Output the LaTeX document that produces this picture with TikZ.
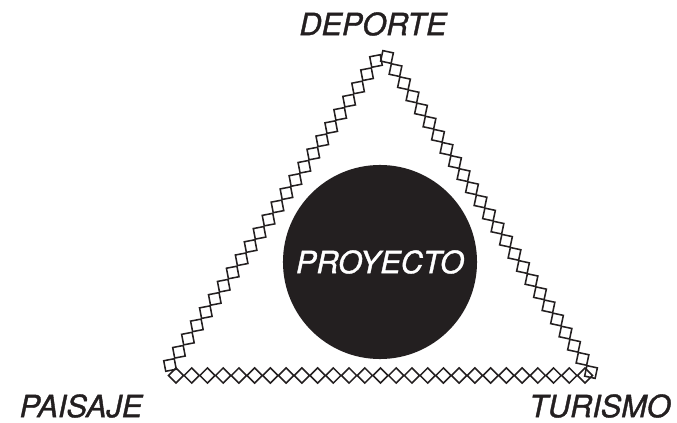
\documentclass[tikz,border=0pt]{standalone}
\usepackage{fontspec}
\setmainfont{TeX Gyre Heros}
\newfontfamily\labelfont{texgyreheros-italic.otf}[BoldFont=texgyreheros-italic.otf, BoldFeatures={FakeBold=1.2}]
\usetikzlibrary{shapes}
\usetikzlibrary{positioning}
\definecolor{ink}{RGB}{35,31,32}
\tikzset{
    tile/.style = {diamond, aspect=1, draw=ink, line width=1.1pt, inner sep=0pt, minimum size=0.395cm},
    mylabel/.style = {inner sep=0pt, text=ink, font=\labelfont\fontsize{21.8}{26}\selectfont\bfseries},
    mycircle/.style = {circle, fill=ink, inner sep=0pt, minimum size=4.85cm, text=white, font=\labelfont\fontsize{21.8}{26}\selectfont\bfseries}
}

\begin{document}
\begin{tikzpicture}[x=0.025cm,y=0.025cm]
\useasboundingbox (0,0) rectangle (677,422);
\coordinate (ls) at (170, 57);
\coordinate (le) at (376, 361);
\coordinate (rs) at (387, 365);
\coordinate (re) at (591, 50);
\coordinate (bs) at (176, 46.5);
\coordinate (be) at (585, 46.5);
%
\node[mycircle] at (380, 160) (proj) {PROYECTO};
%
\path (ls) -- (le) foreach \i in {0,...,23} {node[tile, sloped, pos=\i/23] (l\i) {}};
\path (rs) -- (re) foreach \i in {0,...,24} {node[tile, sloped, pos=\i/24] (r\i) {}};
\path (bs) -- (be) foreach \i in {0,...,26} {node[tile, sloped, pos=\i/26] (b\i) {}};
%
\node[mylabel] at (373, 398) (dep) {DEPORTE};
\node[mylabel] at (81, 16) (pai) {PAISAJE};
\node[mylabel] at (600, 16) (tur) {TURISMO};
\end{tikzpicture}
\end{document}
